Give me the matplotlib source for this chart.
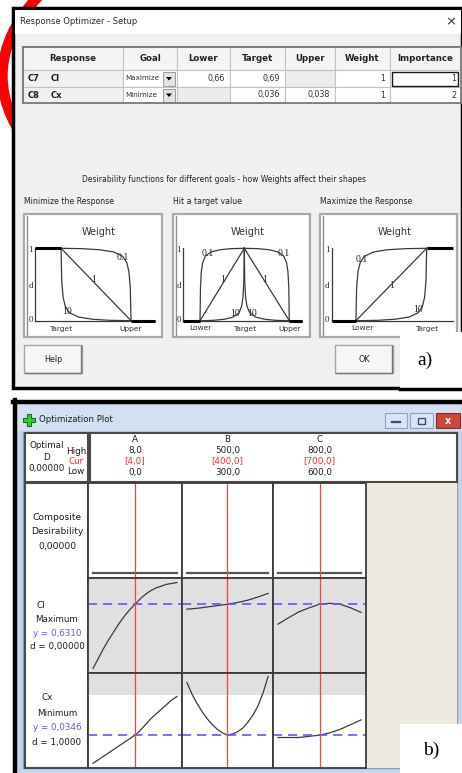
import matplotlib
matplotlib.use('Agg')
import matplotlib.pyplot as plt
from matplotlib.patches import Rectangle, Ellipse, Polygon
from matplotlib.transforms import blended_transform_factory

W, H = 462, 773

# ---------------- data ----------------
TABLE_COLUMNS = ["Response", "Goal", "Lower", "Target", "Upper", "Weight", "Importance"]
RESP_IDS = ["C7", "C8"]
RESP_NAMES = ["Cl", "Cx"]
GOALS = ["Maximize", "Minimize"]
LOWER = ["0,66", ""]
TARGET = ["0,69", "0,036"]
UPPER = ["", "0,038"]
WEIGHT = ["1", "1"]
IMPORTANCE = ["1", "2"]

CAPTION = "Desirability functions for different goals - how Weights affect their shapes"
PANEL_TITLES = ["Minimize the Response", "Hit a target value", "Maximize the Response"]
WEIGHT_LABELS = ["0.1", "1", "10"]
# desirability ramp shapes (fraction of the ramp -> d), read from the sketches
RAMP_W01_U = [0, 0.01, 0.03, 0.06, 0.12, 0.25, 0.45, 0.7, 1.0]
RAMP_W01_D = [0, 0.45, 0.68, 0.80, 0.89, 0.95, 0.98, 0.995, 1.0]
RAMP_W1_U = [0, 1]
RAMP_W1_D = [0, 1]
RAMP_W10_U = [0, 0.3, 0.55, 0.75, 0.88, 0.94, 0.97, 0.99, 1.0]
RAMP_W10_D = [0, 0.005, 0.02, 0.05, 0.11, 0.2, 0.32, 0.55, 1.0]

FACTORS = ["A", "B", "C"]
FACT_HIGH = [8.0, 500.0, 800.0]
FACT_CUR = [4.0, 400.0, 700.0]
FACT_LOW = [0.0, 300.0, 600.0]
OPT_D = 0.0

A_X = [0, 0.5, 1, 1.5, 2, 2.5, 3, 3.5, 4, 4.5, 5, 5.5, 6, 6.5, 7, 7.5, 8]
CL_A = [0.560, 0.571, 0.582, 0.592, 0.601, 0.610, 0.618, 0.625, 0.631,
        0.637, 0.642, 0.646, 0.649, 0.651, 0.653, 0.654, 0.655]
CX_A = [0.0322, 0.0325, 0.0328, 0.0331, 0.0334, 0.0337, 0.0340, 0.0343, 0.0346,
        0.0350, 0.0355, 0.0360, 0.0364, 0.0368, 0.0372, 0.0376, 0.0379]
B_X = [300, 312.5, 325, 337.5, 350, 362.5, 375, 387.5, 400,
       412.5, 425, 437.5, 450, 462.5, 475, 487.5, 500]
CL_B = [0.6256, 0.6260, 0.6265, 0.6272, 0.628, 0.6287, 0.6295, 0.6302, 0.631,
        0.632, 0.633, 0.6342, 0.6355, 0.6372, 0.639, 0.641, 0.643]
CX_B = [0.0391, 0.0381, 0.0373, 0.0366, 0.0360, 0.0355, 0.0351, 0.0348, 0.0346,
        0.0347, 0.0349, 0.0352, 0.0357, 0.0363, 0.0371, 0.0382, 0.0396]
C_X = [600, 625, 650, 675, 700, 725, 750, 775, 800]
CL_C = [0.609, 0.616, 0.6225, 0.627, 0.631, 0.632, 0.631, 0.627, 0.622]
CX_C = [0.0344, 0.0344, 0.0344, 0.0345, 0.0346, 0.0348, 0.0351, 0.0355, 0.0359]
COMP_D = [0.0, 0.0]

CL_GOAL, CL_Y, CL_D, CL_LOWER = "Maximum", 0.6310, 0.0, 0.66
CX_GOAL, CX_Y, CX_D, CX_UPPER = "Minimum", 0.0346, 1.0, 0.038

# ---------------- helpers ----------------
UI = ['DejaVu Sans']
SERIF = ['Liberation Serif', 'DejaVu Serif']
plt.rcParams['font.family'] = UI

fig = plt.figure(figsize=(W / 100, H / 100), dpi=100)
bg = fig.add_axes([0, 0, 1, 1])
bg.set_xlim(0, W); bg.set_ylim(H, 0); bg.axis('off')


def rect(ax, x0, y0, x1, y1, fc='none', ec='none', lw=1.0, z=1):
    ax.add_patch(Rectangle((x0, y0), x1 - x0, y1 - y0, facecolor=fc,
                           edgecolor=ec, linewidth=lw, zorder=z))


def txt(ax, x, y, s, size=6.3, color='#1e1e1e', ha='center', weight='normal',
        family=None, z=5, transform=None):
    kw = {}
    if transform is not None:
        kw['transform'] = transform
    ax.text(x, y, s, fontsize=size, color=color, ha=ha, va='center',
            fontweight=weight, family=family if family else UI, zorder=z, **kw)


def axes_px(x0, y0, x1, y1):
    return fig.add_axes([x0 / W, 1 - y1 / H, (x1 - x0) / W, (y1 - y0) / H])


def comma(v, nd):
    return f"{v:.{nd}f}".replace('.', ',')


# ---------------- red annotation arc (mostly hidden behind the dialog) ----------------
bg.add_patch(Ellipse((311, 76), 617, 340, fill=False, edgecolor='#ff0000', lw=7.5, zorder=0))

# ================= panel a : Response Optimizer - Setup =================
rect(bg, 13, 8, 462, 388, fc='#f0f0f0', ec='black', lw=2.5, z=1)
rect(bg, 15, 10, 461, 34, fc='white', z=1.1)
txt(bg, 20, 22, "Response Optimizer - Setup", size=6.0, ha='left', color='#2a2a2a')
txt(bg, 451, 22, "\u00d7", size=9.5, color='#333333')

# table
col_x = [23, 123, 177, 230, 285, 335, 390, 461]
row_y = [47, 70, 87, 103]
rect(bg, col_x[0], row_y[0], col_x[-1], row_y[-1], fc='white', ec='#7a7a7a', lw=1.3, z=1.2)
for j in range(len(TABLE_COLUMNS)):
    rect(bg, col_x[j], row_y[0], col_x[j + 1], row_y[1], fc='#f4f4f4', ec='#c3c3c3', lw=0.8, z=1.3)
    cx = (col_x[j] + col_x[j + 1]) / 2
    txt(bg, cx, (row_y[0] + row_y[1]) / 2, TABLE_COLUMNS[j], size=6.2, weight='bold', color='#222222')

for i in range(2):
    y0, y1 = row_y[i + 1], row_y[i + 2]
    yc = (y0 + y1) / 2
    cells = [None, GOALS[i], LOWER[i], TARGET[i], UPPER[i], WEIGHT[i], IMPORTANCE[i]]
    for j in range(len(TABLE_COLUMNS)):
        if j == 0:
            fc = '#f0f0f0'
        elif j == 1:
            fc = 'white'
        else:
            fc = 'white' if cells[j] != "" else '#ececec'
        rect(bg, col_x[j], y0, col_x[j + 1], y1, fc=fc, ec='#c3c3c3', lw=0.8, z=1.3)
    txt(bg, 28, yc, RESP_IDS[i], size=6.0, ha='left', weight='bold')
    txt(bg, 51, yc, RESP_NAMES[i], size=6.0, ha='left', weight='bold')
    txt(bg, 125.5, yc, GOALS[i], size=5.2, ha='left', color='#333333')
    # dropdown button
    rect(bg, 163, y0 + 2, 175, y1 - 1.5, fc='#e3e3e3', ec='#9a9a9a', lw=0.7, z=1.5)
    bg.add_patch(Polygon([[166, yc - 1.5], [172, yc - 1.5], [169, yc + 2]], closed=True,
                         fc='black', ec='none', zorder=1.6))
    for j in range(2, 7):
        if cells[j]:
            txt(bg, col_x[j + 1] - 5, yc, cells[j], size=5.8, ha='right', color='#333333')
rect(bg, 392, row_y[1] + 2, 458, row_y[2] - 1, fc='none', ec='#1a1a1a', lw=1.0, z=1.6)
rect(bg, col_x[0], row_y[0], col_x[-1], row_y[-1], fc='none', ec='#7a7a7a', lw=1.3, z=1.7)

# caption & desirability sketches
txt(bg, 224, 180, CAPTION, size=5.5, color='#222222')
panel_frames = [(24, 162), (173, 310), (320, 457)]
for (x0, x1), t in zip(panel_frames, PANEL_TITLES):
    txt(bg, x0, 202, t, size=5.6, ha='left', color='#222222')
    rect(bg, x0, 214, x1, 337, fc='white', ec='#a9a9a9', lw=1.6, z=1.2)
    bg.plot([x0 + 2.5, x0 + 2.5], [216, 335], color='#8c8c8c', lw=1.0, zorder=1.3)
    txt(bg, (x0 + x1) / 2 + 6, 232, "Weight", size=7.0, color='#333333')

# (axis px, end px, L, T, U fractions)
sketches = [
    (35, 155, None, 0.217, 0.80, 'min'),
    (183, 302, 0.143, 0.515, 0.893, 'target'),
    (331.7, 452.7, 0.20, 0.785, None, 'max'),
]
ramps = [(RAMP_W01_U, RAMP_W01_D), (RAMP_W1_U, RAMP_W1_D), (RAMP_W10_U, RAMP_W10_D)]
CURVE = '#3a3a3a'
for ax0, ax1, L, T, U, kind in sketches:
    sa = axes_px(ax0, 248.3, ax1, 320.7)
    sa.set_xlim(0, 1); sa.set_ylim(0, 1); sa.axis('off')
    sa.plot([0, 0], [0, 1], color=CURVE, lw=0.9, clip_on=False)
    sa.plot([0, 1], [0, 0], color=CURVE, lw=0.9, clip_on=False)
    for ru, rd in ramps:
        if kind in ('max', 'target'):
            sa.plot([L + u * (T - L) for u in ru], rd, color=CURVE, lw=0.9, clip_on=False)
        if kind in ('min', 'target'):
            sa.plot([U - u * (U - T) for u in ru], rd, color=CURVE, lw=0.9, clip_on=False)
    if kind == 'min':
        sa.plot([0, T], [1, 1], color='black', lw=2.2, clip_on=False, solid_capstyle='butt')
        sa.plot([U, 1], [0, 0], color='black', lw=2.2, clip_on=False, solid_capstyle='butt')
        xl = [(T, "Target"), (U, "Upper")]
    elif kind == 'target':
        sa.plot([0, L], [0, 0], color='black', lw=2.2, clip_on=False, solid_capstyle='butt')
        sa.plot([U, 1], [0, 0], color='black', lw=2.2, clip_on=False, solid_capstyle='butt')
        xl = [(L, "Lower"), (T, "Target"), (U, "Upper")]
    else:
        sa.plot([0, L], [0, 0], color='black', lw=2.2, clip_on=False, solid_capstyle='butt')
        sa.plot([T, 1], [1, 1], color='black', lw=2.2, clip_on=False, solid_capstyle='butt')
        xl = [(L + 0.05, "Lower"), (T, "Target")]
    tr = blended_transform_factory(sa.transData, bg.transData)
    for xv, lab in xl:
        txt(bg, xv, 328.5, lab, size=5.4, color='#333333', transform=tr)
    txt(bg, ax0 - 4.5, 249.5, "1", size=6.3, family=SERIF, color='#222222')
    txt(bg, ax0 - 4.5, 286, "d", size=6.3, family=SERIF, color='#222222')
    txt(bg, ax0 - 4.5, 320, "0", size=6.3, family=SERIF, color='#222222')

wl_pos = [
    [(123, 257, 0), (94, 279, 1), (67, 311, 2)],
    [(208, 254, 0), (223, 279, 1), (235, 313, 2), (252, 313, 2), (265, 279, 1), (284, 254, 0)],
    [(362, 260, 0), (392, 285, 1), (418, 310, 2)],
]
for group in wl_pos:
    for x, y, k in group:
        txt(bg, x, y, WEIGHT_LABELS[k], size=7.0, family=SERIF, color='#222222', z=6)

# buttons
rect(bg, 24, 345, 82, 373, fc='#f6f6f6', ec='#a5a5a5', lw=1.0, z=1.2)
bg.plot([25, 81, 81], [372.5, 372.5, 346], color='#777777', lw=1.0, zorder=1.3)
txt(bg, 53, 359, "Help", size=5.8, color='#222222')
rect(bg, 335, 345, 393, 373, fc='#f6f6f6', ec='#a5a5a5', lw=1.0, z=1.2)
bg.plot([336, 392, 392], [372.5, 372.5, 346], color='#777777', lw=1.0, zorder=1.3)
txt(bg, 364, 359, "OK", size=5.8, color='#222222')

# ================= panel b : Optimization Plot =================
rect(bg, 13, 400, 462, 773, fc='#c5d6ec', z=1)
rect(bg, 17, 404, 462, 431, fc='#d2e0f2', z=1.05)
bg.plot([15, 15], [400, 773], color='black', lw=3.2, zorder=1.2)
bg.plot([13, 462], [401.5, 401.5], color='black', lw=3.2, zorder=1.2)
# green plus icon
cxp, cyp = 29, 420
a, b = 2.2, 6
plus = [[cxp - a, cyp - b], [cxp + a, cyp - b], [cxp + a, cyp - a], [cxp + b, cyp - a],
        [cxp + b, cyp + a], [cxp + a, cyp + a], [cxp + a, cyp + b], [cxp - a, cyp + b],
        [cxp - a, cyp + a], [cxp - b, cyp + a], [cxp - b, cyp - a], [cxp - a, cyp - a]]
bg.add_patch(Polygon(plus, closed=True, fc='#2ed12e', ec='#1d6e1d', lw=0.8, zorder=1.3))
txt(bg, 39, 420, "Optimization Plot", size=6.2, ha='left', color='#1e1e1e')
# window buttons
rect(bg, 385, 413, 407, 428, fc='#d9e5f3', ec='#8ea5c2', lw=0.8, z=1.3)
bg.plot([392, 400], [421.5, 421.5], color='#3c4f68', lw=1.6, zorder=1.4)
rect(bg, 410, 413, 433, 428, fc='#d9e5f3', ec='#8ea5c2', lw=0.8, z=1.3)
rect(bg, 418, 417.5, 425, 423.5, fc='none', ec='#3c4f68', lw=1.0, z=1.4)
rect(bg, 436, 413, 460, 428, fc='#c9473e', ec='#8b2a22', lw=0.8, z=1.3)
txt(bg, 448, 420.5, "x", size=7, color='white', weight='bold', z=1.5)

# content area
rect(bg, 23, 432, 457, 768, fc='white', ec='#8ea0b8', lw=1.0, z=1.1)
rect(bg, 25, 433, 88, 482, fc='white', ec='#4a4a4a', lw=1.5, z=1.2)
rect(bg, 90, 433, 457, 482, fc='white', ec='#4a4a4a', lw=1.5, z=1.2)
txt(bg, 47, 445, "Optimal", size=6.3)
txt(bg, 47, 457, "D", size=6.3)
txt(bg, 47, 468, comma(OPT_D, 5), size=6.3)
txt(bg, 76, 451, "High", size=6.3)
txt(bg, 76, 461.5, "Cur", size=6.3, color='#ff2a2a')
txt(bg, 76, 472, "Low", size=6.3)

rect(bg, 366, 483, 457, 768, fc='#ece9e0', z=1.2)
rect(bg, 25, 483, 88, 768, fc='white', ec='#4a4a4a', lw=1.5, z=1.2)

cols_px = [88, 182, 273, 366]
rows_px = [483, 578, 673, 768]
xs = [A_X, B_X, C_X]
cl_series = [CL_A, CL_B, CL_C]
cx_series = [CX_A, CX_B, CX_C]
CL_YLIM = (0.555, 0.66)
CX_YLIM = (0.0318, 0.0399)
RED = '#ff4040'
BLUE = '#5a5aff'
GRAY = '#e0e0e0'
DARK = '#3c3c3c'


def style(ax):
    ax.set_xticks([]); ax.set_yticks([])
    for s in ax.spines.values():
        s.set_color(DARK); s.set_linewidth(1.3)


for k in range(3):
    lo, hi, cur = FACT_LOW[k], FACT_HIGH[k], FACT_CUR[k]
    pad = 0.06 * (hi - lo)
    xlim = (lo - pad, hi + pad)
    x0, x1 = cols_px[k], cols_px[k + 1]
    # composite desirability
    axd = axes_px(x0, rows_px[0], x1, rows_px[1])
    axd.set_xlim(*xlim); axd.set_ylim(-0.055, 1.0)
    axd.plot([lo, hi], COMP_D, color='#555555', lw=1.6)
    axd.axvline(cur, color=RED, lw=0.9)
    style(axd)
    # Cl
    ax1 = axes_px(x0, rows_px[1], x1, rows_px[2])
    ax1.set_xlim(*xlim); ax1.set_ylim(*CL_YLIM)
    ax1.axhspan(CL_YLIM[0] - 1, CL_LOWER, color=GRAY, lw=0)
    ax1.plot(xs[k], cl_series[k], color=DARK, lw=0.9)
    ax1.axhline(CL_Y, color=BLUE, lw=1.2, ls=(0, (5.5, 3.5)))
    ax1.axvline(cur, color=RED, lw=0.9)
    style(ax1)
    # Cx
    ax2 = axes_px(x0, rows_px[2], x1, rows_px[3])
    ax2.set_xlim(*xlim); ax2.set_ylim(*CX_YLIM)
    ax2.axhspan(CX_UPPER, CX_YLIM[1] + 1, color=GRAY, lw=0)
    ax2.plot(xs[k], cx_series[k], color=DARK, lw=0.9)
    ax2.axhline(CX_Y, color=BLUE, lw=1.2, ls=(0, (5.5, 3.5)))
    ax2.axvline(cur, color=RED, lw=0.9)
    style(ax2)
    # factor header
    tr = blended_transform_factory(axd.transData, bg.transData)
    txt(bg, cur, 440, FACTORS[k], size=6.3, transform=tr)
    txt(bg, cur, 451, comma(hi, 1), size=6.3, transform=tr)
    txt(bg, cur, 461.5, "[" + comma(cur, 1) + "]", size=6.3, color='#ff2a2a', transform=tr)
    txt(bg, cur, 472, comma(lo, 1), size=6.3, transform=tr)

# row labels
txt(bg, 57, 518, "Composite", size=6.6)
txt(bg, 57, 532, "Desirability", size=6.6)
txt(bg, 57, 546, comma(OPT_D, 5), size=6.6)
txt(bg, 41, 605, RESP_NAMES[0], size=6.3)
txt(bg, 57, 619, CL_GOAL, size=6.3)
txt(bg, 57, 633, "y = " + comma(CL_Y, 4), size=6.3, color=BLUE)
txt(bg, 57, 647, "d = " + comma(CL_D, 5), size=6.3)
txt(bg, 47, 698, RESP_NAMES[1], size=6.3)
txt(bg, 57, 713, CX_GOAL, size=6.3)
txt(bg, 57, 727, "y = " + comma(CX_Y, 4), size=6.3, color=BLUE)
txt(bg, 57, 742, "d = " + comma(CX_D, 4), size=6.3)

# ---------------- overlay labels a) b) ----------------
top = fig.add_axes([0, 0, 1, 1])
top.set_xlim(0, W); top.set_ylim(H, 0); top.axis('off')
rect(top, 400, 332, 462, 389, fc='white', z=2)
top.plot([400, 462], [388.5, 388.5], color='black', lw=2.5, zorder=2.1)
txt(top, 425, 360, "a)", size=14, family=SERIF, color='black', z=3)
rect(top, 400, 724, 462, 773, fc='white', z=2)
txt(top, 431, 750, "b)", size=14, family=SERIF, color='black', z=3)

fig.savefig('out.png', dpi=100)
